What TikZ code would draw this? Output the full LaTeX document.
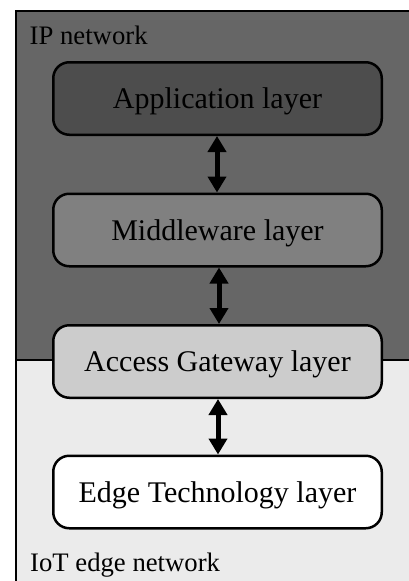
\documentclass[tikz,border=0pt]{standalone}
\usepackage{fontspec}
\setmainfont{Liberation Serif}
\usetikzlibrary{arrows.meta}
\definecolor{darkbg}{HTML}{666666}
\definecolor{lightbg}{HTML}{EBEBEB}
\definecolor{appfill}{HTML}{4D4D4D}
\definecolor{midfill}{HTML}{808080}
\definecolor{gwfill}{HTML}{CCCCCC}
\tikzset{
  layerbox/.style={draw=black, line width=2.5pt, rounded corners=16pt,
    minimum width=328.5pt, minimum height=72.5pt, inner sep=0pt,
    font=\fontsize{30}{36}\selectfont, text height=20pt, text depth=0pt},
  netlabel/.style={anchor=base west, inner sep=0pt, font=\fontsize{26.7}{32}\selectfont},
  biarrow/.style={line width=5pt, {Triangle[width=18pt,length=16pt]}-{Triangle[width=18pt,length=16pt]}},
  framefill/.style={draw=none}
}
\begin{document}
\begin{tikzpicture}[x=1pt,y=-1pt]
\useasboundingbox (0,0) rectangle (408,581);
\fill[darkbg] (16,11) rectangle (430,360);
\fill[lightbg] (16,360) rectangle (430,600);
\draw[line width=2pt] (16,600) -- (16,11) -- (430,11);
\draw[line width=2pt] (16,360) -- (430,360);
\node[netlabel] (ipl) at (29.5,44) {IP network};
\node[netlabel] (iotl) at (30,571.7) {IoT edge network};
\node[layerbox, fill=appfill] (app) at (217.5,98.5) {Application layer};
\node[layerbox, fill=midfill] (mid) at (217.5,230) {Middleware layer};
\node[layerbox, fill=gwfill] (gw) at (217.5,361.5) {Access Gateway layer};
\node[layerbox, fill=white] (edge) at (217.5,492) {Edge Technology layer};
\draw[biarrow] ([xshift=-0.5pt]app.south) -- ([xshift=-0.5pt]mid.north);
\draw[biarrow] ([xshift=1.5pt]mid.south) -- ([xshift=1.5pt]gw.north);
\draw[biarrow] ([xshift=0.5pt]gw.south) -- ([xshift=0.5pt]edge.north);
\end{tikzpicture}
\end{document}
